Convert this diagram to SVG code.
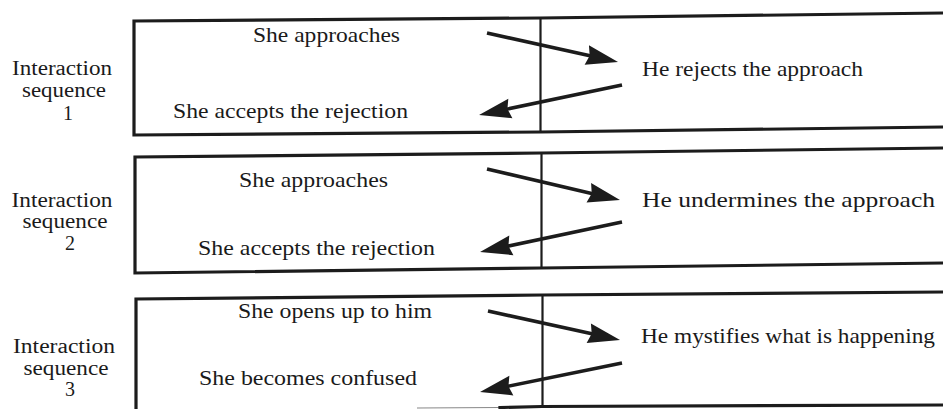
<svg xmlns="http://www.w3.org/2000/svg" width="943" height="409" viewBox="0 0 943 409">
<style>
.bg{fill:#fff}
.frame{stroke:#1c1c1c;stroke-width:3.2;fill:none;stroke-linecap:square}
.div{stroke:#1c1c1c;stroke-width:2.2;fill:none}
.t{font-size:22px;fill:#1a1a1a}
.lab{font-size:20px;fill:#1a1a1a;text-anchor:middle}
.arr{stroke:#1c1c1c;stroke-width:3.6;fill:none;marker-end:url(#ah)}
</style>
<defs>
<marker id="ah" markerUnits="userSpaceOnUse" markerWidth="34" markerHeight="22" refX="16" refY="10" orient="auto" overflow="visible">
<path d="M0,0 L32,10 L0,20 L3,10 z" fill="#1c1c1c"/>
</marker>
</defs>
<rect class="bg" x="0" y="0" width="943" height="409"/>

<g font-family="Liberation Serif, DejaVu Serif, serif">
<g id="row1">
<g id="label1">
<text class="lab" font-family="Liberation Serif" x="62" y="75" textLength="100" lengthAdjust="spacingAndGlyphs">Interaction</text>
<text class="lab" font-family="Liberation Serif" x="64" y="97" textLength="84" lengthAdjust="spacingAndGlyphs">sequence</text>
<text class="lab" font-family="Liberation Serif" x="68" y="120">1</text>
</g>
<g id="box1">
<path class="frame" d="M943,13 L540,18 L134,21 L134,135 L540,132 L943,127"/>
<line class="div" x1="540.5" y1="18" x2="540.5" y2="132"/>
<text class="t" font-family="Liberation Serif" x="253" y="42" textLength="147" lengthAdjust="spacingAndGlyphs">She approaches</text>
<text class="t" font-family="Liberation Serif" x="173" y="118" textLength="235" lengthAdjust="spacingAndGlyphs">She accepts the rejection</text>
<text class="t" font-family="Liberation Serif" x="642" y="76" textLength="221" lengthAdjust="spacingAndGlyphs">He rejects the approach</text>
</g>
</g>

<g id="row2">
<g id="label2">
<text class="lab" font-family="Liberation Serif" x="62" y="207" textLength="101" lengthAdjust="spacingAndGlyphs">Interaction</text>
<text class="lab" font-family="Liberation Serif" x="65" y="228" textLength="85" lengthAdjust="spacingAndGlyphs">sequence</text>
<text class="lab" font-family="Liberation Serif" x="70" y="250">2</text>
</g>
<g id="box2">
<path class="frame" d="M943,148 L541,153 L135,157 L135,273 L541,268 L943,263"/>
<line class="div" x1="541.5" y1="153" x2="541.5" y2="268"/>
<text class="t" font-family="Liberation Serif" x="239" y="187" textLength="149" lengthAdjust="spacingAndGlyphs">She approaches</text>
<text class="t" font-family="Liberation Serif" x="198" y="255" textLength="237" lengthAdjust="spacingAndGlyphs">She accepts the rejection</text>
<text class="t" font-family="Liberation Serif" x="642" y="207" textLength="293" lengthAdjust="spacingAndGlyphs">He undermines the approach</text>
</g>
</g>

<g id="row3">
<g id="label3">
<text class="lab" font-family="Liberation Serif" x="64" y="353" textLength="102" lengthAdjust="spacingAndGlyphs">Interaction</text>
<text class="lab" font-family="Liberation Serif" x="66" y="375" textLength="85" lengthAdjust="spacingAndGlyphs">sequence</text>
<text class="lab" font-family="Liberation Serif" x="70" y="396">3</text>
</g>
<g id="box3">
<path class="frame" d="M943,292 L542,295 L136,299 L136,412"/>
<path d="M417,408 L500,407.5" stroke="#888" stroke-width="1.2" fill="none"/>
<path class="frame" d="M500,407.5 L542,406.5 L943,405"/>
<line class="div" x1="542.5" y1="295" x2="542.5" y2="407"/>
<text class="t" font-family="Liberation Serif" x="238" y="318" textLength="194" lengthAdjust="spacingAndGlyphs">She opens up to him</text>
<text class="t" font-family="Liberation Serif" x="199" y="385" textLength="218" lengthAdjust="spacingAndGlyphs">She becomes confused</text>
<text class="t" font-family="Liberation Serif" x="641" y="343" textLength="294" lengthAdjust="spacingAndGlyphs">He mystifies what is happening</text>
</g>
</g>
</g>

<g id="connectors">
<line class="arr" x1="487" y1="33" x2="602.4" y2="58.5"/>
<line class="arr" x1="622" y1="85" x2="494.7" y2="111.7"/>
<line class="arr" x1="487" y1="169" x2="604.4" y2="196.4"/>
<line class="arr" x1="622" y1="222" x2="495.7" y2="248.7"/>
<line class="arr" x1="488" y1="311" x2="604.4" y2="336.6"/>
<line class="arr" x1="622" y1="363" x2="495.7" y2="388.8"/>
</g>
</svg>
